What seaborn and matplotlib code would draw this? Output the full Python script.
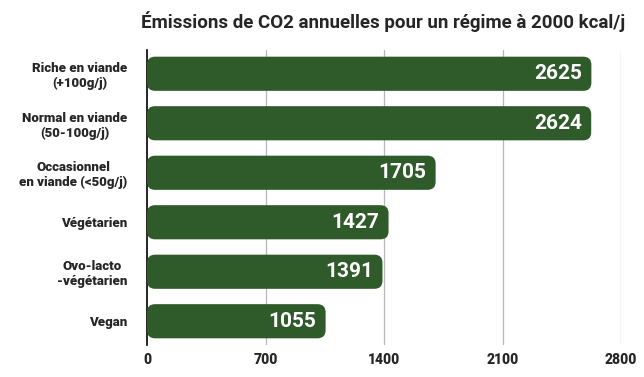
import matplotlib
matplotlib.use('Agg')
import matplotlib.pyplot as plt
from matplotlib.patches import FancyBboxPatch
import seaborn as sns
import pandas as pd

# Data
diets = ['Riche en viande\n(+100g/j)', 'Normal en viande\n(50-100g/j)',
         'Occasionnel\nen viande (<50g/j)', 'Végétarien',
         'Ovo-lacto\n-végétarien', 'Vegan']
emissions = [2625, 2624, 1705, 1427, 1391, 1055]
xticks = [0, 700, 1400, 2100, 2800]

df = pd.DataFrame({'regime': diets, 'co2': emissions})

sns.set_theme(style='white')
plt.rcParams['font.family'] = ['Roboto', 'DejaVu Sans']

fig = plt.figure(figsize=(6.44, 3.77), dpi=100)
ax = fig.add_axes([147/644, 32/377, 474/644, 295/377])

green = '#2f5a2a'
sns.barplot(data=df, x='co2', y='regime', color=green, width=0.69,
            saturation=1, ax=ax, zorder=3)

# replace bars with rounded ones
bars = list(ax.patches)
for b in bars:
    x0, y0 = b.get_x(), b.get_y()
    w, h = b.get_width(), b.get_height()
    b.remove()
    rb = FancyBboxPatch((x0, y0), w, h,
                        boxstyle='round,pad=0,rounding_size=48',
                        mutation_aspect=0.0034,
                        facecolor=green, edgecolor='none', zorder=3)
    ax.add_patch(rb)

for i, v in enumerate(emissions):
    ax.text(v - 55, i, str(v), ha='right', va='center', color='white',
            fontsize=15, fontweight='bold', zorder=4)

ax.set_xlim(0, 2800)
ax.set_ylim(5.48, -0.48)
ax.set_xticks(xticks)
ax.set_xticklabels([str(t) for t in xticks], fontsize=10, fontweight='heavy')
ax.set_yticks(range(len(diets)))
ax.set_yticklabels(diets, fontsize=9.5, fontweight='heavy', multialignment='center')
ax.tick_params(axis='x', length=0, pad=6)
ax.tick_params(axis='y', length=0, pad=14)
ax.set_xlabel('')
ax.set_ylabel('')
for t in xticks[1:]:
    ax.axvline(t, color='#b7b7b7', lw=0.9, zorder=1)
for s in ['top', 'right', 'bottom']:
    ax.spines[s].set_visible(False)
ax.spines['left'].set_color('black')
ax.spines['left'].set_linewidth(1.2)

fig.text(383/644, 1 - 22/377, 'Émissions de CO2 annuelles pour un régime à 2000 kcal/j',
         ha='center', va='center', fontsize=13.5, fontweight='bold')

fig.savefig('out.png', dpi=100)
